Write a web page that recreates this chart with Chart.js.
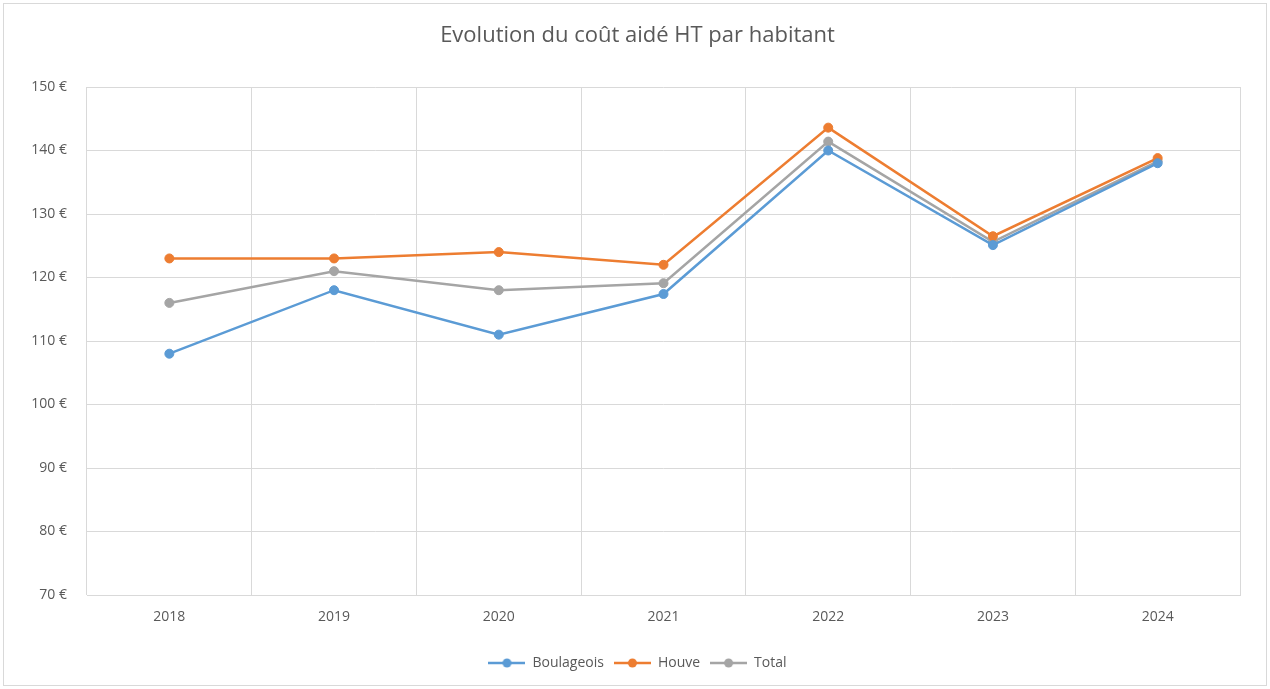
<!DOCTYPE html>
<html>
<head>
<meta charset="utf-8">
<style>
  html, body { margin: 0; padding: 0; background: #ffffff; }
  #wrap { position: relative; width: 1270px; height: 689px; }
</style>
<script src="https://cdn.jsdelivr.net/npm/chart.js@4/dist/chart.umd.min.js"></script>
</head>
<body>
<div id="wrap"><canvas id="c" width="1270" height="689"></canvas></div>
<script>
const years = ['2018', '2019', '2020', '2021', '2022', '2023', '2024'];
const boulageois = [108, 118, 111, 117.4, 140, 125.1, 138];
const houve = [123, 123, 124, 122, 143.6, 126.5, 138.8];
const total = [116, 121, 118, 119.1, 141.4, 125.6, 138.3];
const seriesNames = ['Boulageois', 'Houve', 'Total'];
const seriesColors = ['#5B9BD5', '#ED7D31', '#A5A5A5'];

const FONT = "'Open Sans', sans-serif";
const TEXT = '#595959';
const GRID = '#D9D9D9';

// small line-with-dot marker used in the legend
function legendMarker(color) {
  const cv = document.createElement('canvas');
  cv.width = 37; cv.height = 12;
  const g = cv.getContext('2d');
  g.strokeStyle = color;
  g.lineWidth = 2.5;
  g.beginPath(); g.moveTo(0, 6); g.lineTo(37, 6); g.stroke();
  g.fillStyle = color;
  g.beginPath(); g.arc(18.5, 6, 4.5, 0, Math.PI * 2); g.fill();
  return cv;
}

// light frame around the whole figure
const frame = {
  id: 'frame',
  beforeDraw(chart) {
    const ctx = chart.ctx;
    ctx.save();
    ctx.fillStyle = '#ffffff';
    ctx.fillRect(0, 0, chart.width, chart.height);
    ctx.strokeStyle = GRID;
    ctx.lineWidth = 1;
    ctx.strokeRect(3.5, 3.5, chart.width - 7, chart.height - 7);
    ctx.restore();
  }
};

const dataSeries = [boulageois, houve, total];
const datasets = dataSeries.map((vals, i) => ({
  label: seriesNames[i],
  data: vals,
  borderColor: seriesColors[i],
  backgroundColor: seriesColors[i],
  borderWidth: 2.5,
  pointRadius: 4.5,
  pointHoverRadius: 4.5,
  pointBorderWidth: 1,
  pointBackgroundColor: seriesColors[i],
  pointBorderColor: seriesColors[i],
  pointStyle: 'circle',
  tension: 0,
  legendMarker: legendMarker(seriesColors[i])
}));

new Chart(document.getElementById('c'), {
  type: 'line',
  data: { labels: years, datasets },
  plugins: [frame],
  options: {
    responsive: false,
    animation: false,
    devicePixelRatio: 1,
    layout: { padding: { left: 20, right: 15, top: 0, bottom: 9 } },
    plugins: {
      tooltip: { enabled: false },
      title: {
        display: true,
        text: 'Evolution du coût aidé HT par habitant',
        color: TEXT,
        font: { family: FONT, size: 22, weight: 'normal' },
        padding: { top: 23, bottom: 37.6 }
      },
      legend: {
        position: 'bottom',
        labels: {
          color: TEXT,
          font: { family: FONT, size: 14 },
          usePointStyle: true,
          pointStyleWidth: 37,
          boxHeight: 12,
          padding: 10,
          generateLabels(chart) {
            return chart.data.datasets.map((ds, i) => ({
              text: ds.label,
              pointStyle: ds.legendMarker,
              fillStyle: ds.borderColor,
              strokeStyle: ds.borderColor,
              lineWidth: 0,
              fontColor: TEXT,
              hidden: false,
              datasetIndex: i
            }));
          }
        }
      }
    },
    scales: {
      x: {
        offset: true,
        grid: { offset: true, color: GRID, drawTicks: false, lineWidth: 1 },
        border: { display: true, color: GRID },
        ticks: { color: TEXT, font: { family: FONT, size: 14 }, padding: 14 },
        afterFit(scale) { scale.height = 51; }
      },
      y: {
        min: 70,
        max: 150,
        grid: { color: GRID, drawTicks: false, lineWidth: 1 },
        border: { display: false },
        ticks: {
          stepSize: 10,
          color: TEXT,
          font: { family: FONT, size: 14 },
          padding: 20,
          callback: v => v + '\u00a0€'
        },
        afterFit(scale) { scale.width = 67; }
      },
      // empty right-hand margin strip
      yRight: {
        position: 'right',
        min: 0,
        max: 1,
        grid: { display: false },
        border: { display: false },
        ticks: { display: false },
        afterFit(scale) { scale.width = 15; }
      }
    }
  }
});
</script>
</body>
</html>
